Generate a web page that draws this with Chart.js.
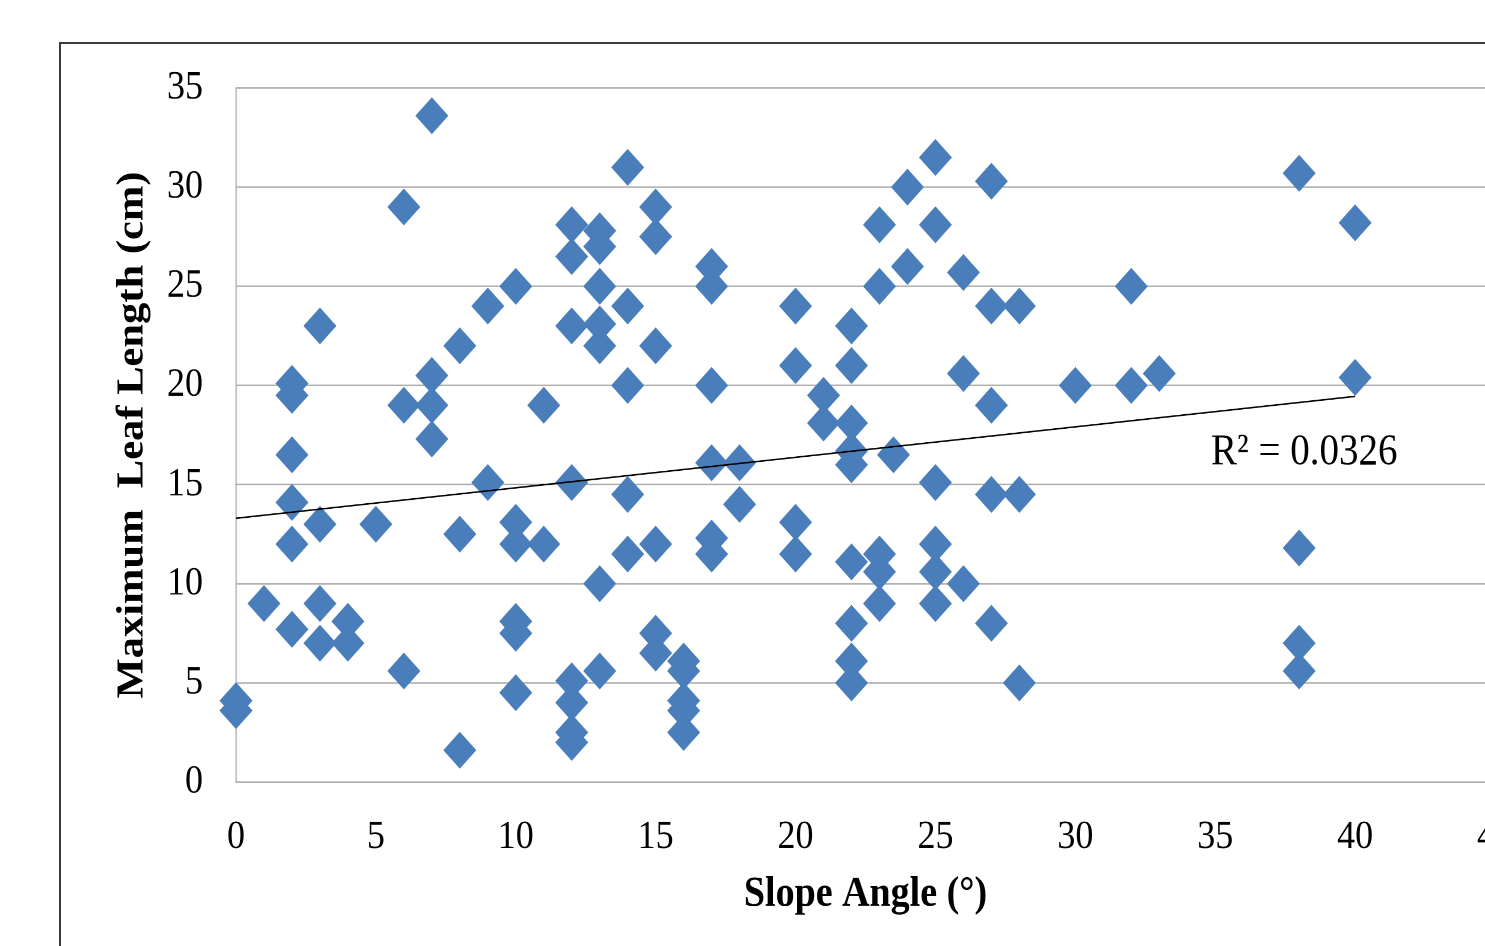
<!DOCTYPE html>
<html>
<head>
<meta charset="utf-8">
<title>Slope Angle vs Maximum Leaf Length</title>
<script src="https://cdn.jsdelivr.net/npm/chart.js@4.4.1/dist/chart.umd.min.js"></script>
<style>
  html, body { margin: 0; padding: 0; width: 1485px; height: 946px; overflow: hidden; background: #fff; }
  #frame { position: absolute; left: 59px; top: 42px; width: 2000px; height: 2000px;
           border-left: 2px solid #3c3c3c; border-top: 2px solid #3c3c3c; }
  /* the reference is a little taller than wide, so stretch the whole chart vertically */
  #wrap { position: absolute; left: 0; top: 0; width: 1600px; height: 845px;
          transform: scaleY(1.1195); transform-origin: 0 0; }
</style>
</head>
<body>
<div id="frame"></div>
<div id="wrap"><canvas id="leafChart" width="1600" height="845"></canvas></div>
<script>
// slope angle (deg) and maximum leaf length (cm), one pair per plant
const slopeAngle = [
  0, 0,
  1,
  2, 2, 2, 2, 2, 2,
  3, 3, 3, 3,
  4, 4,
  5,
  6, 6, 6,
  7, 7, 7, 7,
  8, 8, 8,
  9, 9,
  10, 10, 10, 10, 10, 10,
  11, 11,
  12, 12, 12, 12, 12, 12, 12, 12,
  13, 13, 13, 13, 13, 13, 13,
  14, 14, 14, 14, 14,
  15, 15, 15, 15, 15, 15,
  16, 16, 16, 16, 16,
  17, 17, 17, 17, 17, 17,
  18, 18,
  20, 20, 20, 20,
  21, 21,
  22, 22, 22, 22, 22, 22, 22, 22, 22,
  23, 23, 23, 23, 23,
  23.5,
  24, 24,
  25, 25, 25, 25, 25, 25,
  26, 26, 26,
  27, 27, 27, 27, 27,
  28, 28, 28,
  30,
  32, 32,
  33,
  38, 38, 38, 38,
  40, 40
];
const leafLength = [
  4.1, 3.6,
  9.0,
  20.1, 19.5, 16.5, 14.1, 12.0, 7.7,
  23.0, 13.0, 9.0, 7.0,
  8.1, 7.0,
  13.0,
  29.0, 19.0, 5.6,
  33.6, 20.5, 19.0, 17.3,
  22.0, 12.5, 1.6,
  24.0, 15.1,
  25.0, 13.1, 12.0, 8.1, 7.5, 4.5,
  19.0, 12.0,
  28.1, 26.5, 23.0, 15.1, 5.1, 4.0, 2.5, 2.0,
  27.8, 27.0, 25.0, 23.1, 22.0, 10.0, 5.6,
  31.0, 24.0, 20.0, 14.5, 11.5,
  29.0, 27.5, 22.0, 12.0, 7.5, 6.5,
  6.1, 5.6, 4.1, 3.6, 2.5,
  26.0, 25.0, 20.0, 16.1, 12.3, 11.5,
  16.1, 14.0,
  24.0, 21.0, 13.1, 11.5,
  19.5, 18.1,
  23.0, 21.0, 18.1, 16.7, 16.0, 11.1, 8.0, 6.1, 5.0,
  28.1, 25.0, 11.5, 10.6, 9.0,
  16.5,
  30.0, 26.0,
  31.5, 28.1, 15.1, 12.0, 10.6, 9.0,
  25.7, 20.6, 10.0,
  30.3, 24.0, 19.0, 14.5, 8.0,
  24.0, 14.5, 5.0,
  20.0,
  25.0, 20.0,
  20.6,
  30.7, 11.8, 7.0, 5.6,
  28.2, 20.4
];

// linear trendline
const trendX = [0, 40];
const trendY = [13.3, 19.45];
const r2Text = "R\u00B2 = 0.0326";
const r2Pos = [34.85, 16.6];

const xTicks = [0, 5, 10, 15, 20, 25, 30, 35, 40, 45];
const yTicks = [0, 5, 10, 15, 20, 25, 30, 35];

const serif = '"Liberation Serif", "Times New Roman", serif';
const gridGray = "#a6a6a6";

const points = slopeAngle.map((x, i) => ({ x: x, y: leafLength[i] }));
const trend = trendX.map((x, i) => ({ x: x, y: trendY[i] }));

const r2Label = {
  id: "r2Label",
  afterDatasetsDraw(chart) {
    const { ctx, scales } = chart;
    ctx.save();
    ctx.font = "39px " + serif;
    ctx.fillStyle = "#000";
    ctx.textAlign = "left";
    ctx.textBaseline = "middle";
    ctx.fillText(r2Text, scales.x.getPixelForValue(r2Pos[0]), scales.y.getPixelForValue(r2Pos[1]));
    ctx.restore();
  }
};

new Chart(document.getElementById("leafChart"), {
  type: "scatter",
  data: {
    datasets: [
      {
        label: "Linear trend",
        data: trend,
        showLine: true,
        borderColor: "#000",
        borderWidth: 1.4,
        pointRadius: 0,
        order: 0
      },
      {
        label: "Maximum leaf length",
        data: points,
        pointStyle: "rectRot",
        pointRadius: 16.5,
        pointBackgroundColor: "#4A7EBB",
        pointBorderWidth: 0,
        clip: false,
        order: 1
      }
    ]
  },
  options: {
    responsive: false,
    animation: false,
    devicePixelRatio: 2,
    layout: { padding: { top: 78.6, right: 105, bottom: 0, left: 0 } },
    plugins: {
      legend: { display: false },
      tooltip: { enabled: false }
    },
    scales: {
      x: {
        type: "linear",
        min: 0,
        max: 45,
        afterFit: (scale) => { scale.height = 146.5; },
        afterBuildTicks: (scale) => { scale.ticks = xTicks.map(v => ({ value: v })); },
        grid: { display: false },
        border: { display: true, color: gridGray, width: 1.2 },
        ticks: { padding: 20, color: "#000", font: { family: serif, size: 36 } },
        title: {
          display: true,
          text: "Slope Angle (\u00B0)",
          color: "#000",
          font: { family: serif, size: 38, weight: "bold" },
          padding: { top: 0, bottom: 23 }
        }
      },
      y: {
        min: 0,
        max: 35,
        afterFit: (scale) => { scale.width = 236; },
        afterBuildTicks: (scale) => { scale.ticks = yTicks.map(v => ({ value: v })); },
        grid: { color: gridGray, lineWidth: 1.2, drawTicks: false },
        border: { display: true, color: gridGray, width: 1.2 },
        ticks: { padding: 33, color: "#000", font: { family: serif, size: 36 } },
        title: {
          display: true,
          text: "Maximum  Leaf Length (cm)",
          color: "#000",
          font: { family: serif, size: 38, weight: "bold" },
          padding: { top: 110, bottom: 0 }
        }
      }
    }
  },
  plugins: [r2Label]
});
</script>
</body>
</html>
